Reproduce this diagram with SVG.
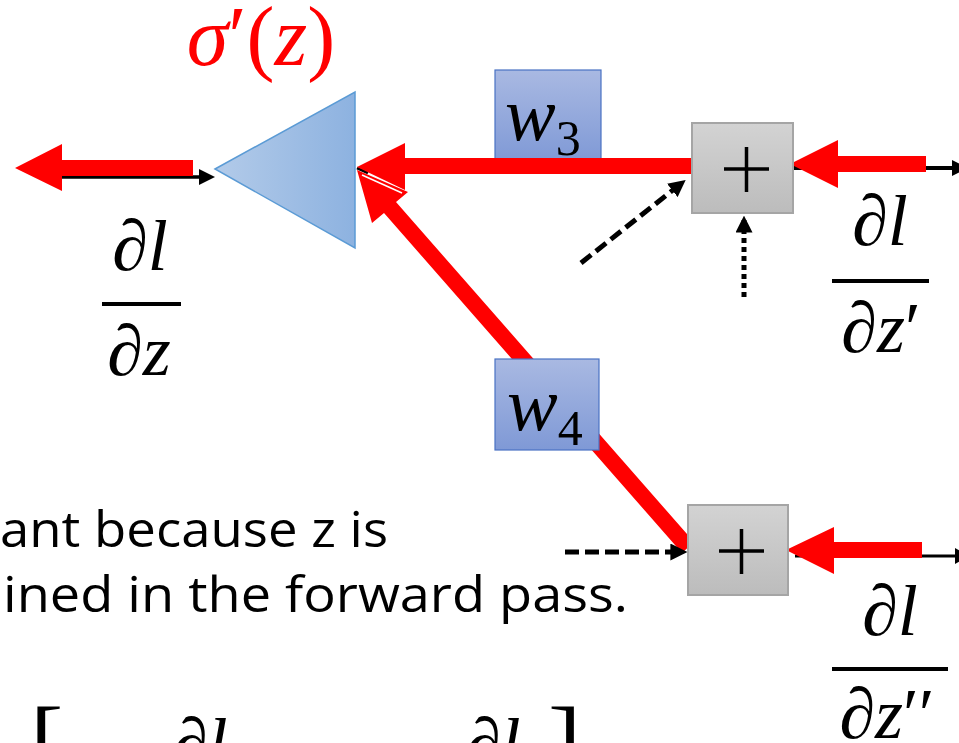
<svg xmlns="http://www.w3.org/2000/svg" width="959" height="743" viewBox="0 0 959 743">
<defs>
  <linearGradient id="gBlue" x1="0" y1="0" x2="0" y2="1">
    <stop offset="0" stop-color="#a9b9e2"/>
    <stop offset="1" stop-color="#7f99d6"/>
  </linearGradient>
  <linearGradient id="gTri" x1="0" y1="0" x2="1" y2="0">
    <stop offset="0" stop-color="#b3cbe9"/>
    <stop offset="1" stop-color="#8db2e0"/>
  </linearGradient>
  <linearGradient id="gGray" x1="0" y1="0" x2="0" y2="1">
    <stop offset="0" stop-color="#d3d3d3"/>
    <stop offset="1" stop-color="#bcbcbc"/>
  </linearGradient>
  <marker id="ah" viewBox="0 0 10 10" refX="8" refY="5" markerWidth="3.4" markerHeight="3.4" orient="auto" markerUnits="strokeWidth">
    <path d="M0,0 L10,5 L0,10 Z" fill="#000"/>
  </marker>
</defs>
<style>
  .red{fill:#ff0000;stroke:none}
  .wbox{fill:url(#gBlue);stroke:#4a72c4;stroke-width:1.2}
  .pbox{fill:url(#gGray);stroke:#a5a5a5;stroke-width:2}
  .plus{stroke:#000;stroke-width:3.5;fill:none}
  .blk{stroke:#000;fill:none}
  .math{font-family:'Liberation Serif','DejaVu Serif',serif;font-style:italic;fill:#000}
  .up{font-style:normal}
  .body{font-family:'Open Sans','Noto Sans',sans-serif;font-size:50px;fill:#000}
  .fl{stroke:#000;stroke-width:4}
</style>

<!-- text body -->
<g id="caption">
  <text class="body" x="0" y="547" textLength="388" lengthAdjust="spacingAndGlyphs">ant because z is</text>
  <text class="body" x="3" y="612" textLength="625" lengthAdjust="spacingAndGlyphs">ined in the forward pass.</text>
</g>

<!-- bottom partial formula -->
<g id="formula">
  <text class="math up" x="30" y="776" font-size="100">[</text>
  <text class="math" x="172" y="768" font-size="72"><tspan class="up">∂</tspan>l</text>
  <text class="math" x="465" y="768" font-size="72"><tspan class="up">∂</tspan>l</text>
  <text class="math up" x="548" y="776" font-size="100">]</text>
</g>

<!-- nodes -->
<g id="sigma">
  <polygon points="215,169 355,92 355,248" fill="url(#gTri)" stroke="#5b9bd5" stroke-width="1.5"/>
  <text class="math" x="261" y="65" font-size="84" text-anchor="middle" style="fill:#ff0000">σ<tspan class="up">′(</tspan>z<tspan class="up">)</tspan></text>
</g>

<g id="w3">
  <rect class="wbox" x="495" y="70" width="106" height="92"/>
  <text class="math" x="505" y="140" font-size="76">w<tspan class="up" font-size="50" dy="15">3</tspan></text>
</g>

<!-- connectors -->
<g id="connectors">
  <!-- left output: black forward arrow + red backward arrow -->
  <line class="blk" x1="62" y1="177" x2="201" y2="177" stroke-width="3.5"/>
  <polygon points="199,169 215,177 199,185" fill="#000"/>
  <polygon class="red" points="15,168 62,144 62,160 193,160 193,176 62,176 62,191"/>

  <!-- tiny forward stub at triangle tip -->
  <line class="blk" x1="357" y1="168" x2="368" y2="173" stroke-width="3"/>

  <!-- top: from plus box to triangle -->
  <polygon class="red" points="357,167 405,143 405,158 693,158 693,174 405,174 405,190"/>

  <!-- diagonal from bottom plus to triangle -->
  <polygon class="red" points="357,170 408,192 396,202 694,542 682,553 384,213 372,223"/>
  <line x1="362" y1="175" x2="402" y2="193" stroke="#fff" stroke-width="1.5"/>

  <!-- top right -->
  <line class="blk" x1="792" y1="168" x2="955" y2="168" stroke-width="4"/>
  <polygon points="952,160 968,168 952,176" fill="#000"/>
  <polygon class="red" points="790,164 838,140 838,156 926,156 926,172 838,172 838,188"/>

  <!-- bottom right -->
  <line class="blk" x1="795" y1="556" x2="955" y2="556" stroke-width="3"/>
  <polygon points="955,548 969,556 955,564" fill="#000"/>
  <polygon class="red" points="786,550 834,527 834,542 922,542 922,558 834,558 834,574"/>

  <!-- dashed into top plus -->
  <line class="blk" x1="581" y1="263" x2="683" y2="182" stroke-width="5" stroke-dasharray="13,6" marker-end="url(#ah)"/>
  <!-- dotted into top plus -->
  <line class="blk" x1="744" y1="297" x2="744" y2="219" stroke-width="5" stroke-dasharray="5,4" marker-end="url(#ah)"/>
  <!-- dashed into bottom plus -->
  <line class="blk" x1="565" y1="552" x2="684" y2="552" stroke-width="5" stroke-dasharray="14,6" marker-end="url(#ah)"/>
</g>

<g id="w4">
  <rect class="wbox" x="495" y="359" width="104" height="91"/>
  <text class="math" x="507" y="430" font-size="76">w<tspan class="up" font-size="50" dy="15">4</tspan></text>
</g>

<g id="plus1">
  <rect class="pbox" x="692" y="123" width="101" height="90"/>
  <line class="plus" x1="724" y1="169" x2="769" y2="169"/>
  <line class="plus" x1="746.5" y1="147" x2="746.5" y2="192"/>
</g>

<g id="plus2">
  <rect class="pbox" x="688" y="505" width="100" height="90"/>
  <line class="plus" x1="719" y1="551" x2="764" y2="551"/>
  <line class="plus" x1="741.5" y1="529" x2="741.5" y2="574"/>
</g>

<!-- gradient labels -->
<g id="dldz">
  <text class="math" x="140" y="270" font-size="72" text-anchor="middle"><tspan class="up">∂</tspan>l</text>
  <line class="fl" x1="102" y1="304" x2="181" y2="304"/>
  <text class="math" x="139" y="375" font-size="72" text-anchor="middle"><tspan class="up">∂</tspan>z</text>
</g>

<g id="dldz1">
  <text class="math" x="880" y="245" font-size="72" text-anchor="middle"><tspan class="up">∂</tspan>l</text>
  <line class="fl" x1="832" y1="281" x2="929" y2="281"/>
  <text class="math" x="881" y="352" font-size="72" text-anchor="middle"><tspan class="up">∂</tspan>z<tspan class="up">′</tspan></text>
</g>

<g id="dldz2">
  <text class="math" x="890" y="635" font-size="72" text-anchor="middle"><tspan class="up">∂</tspan>l</text>
  <line class="fl" x1="832" y1="669" x2="948" y2="669"/>
  <text class="math" x="887" y="738" font-size="72" text-anchor="middle"><tspan class="up">∂</tspan>z<tspan class="up">′′</tspan></text>
</g>
</svg>
